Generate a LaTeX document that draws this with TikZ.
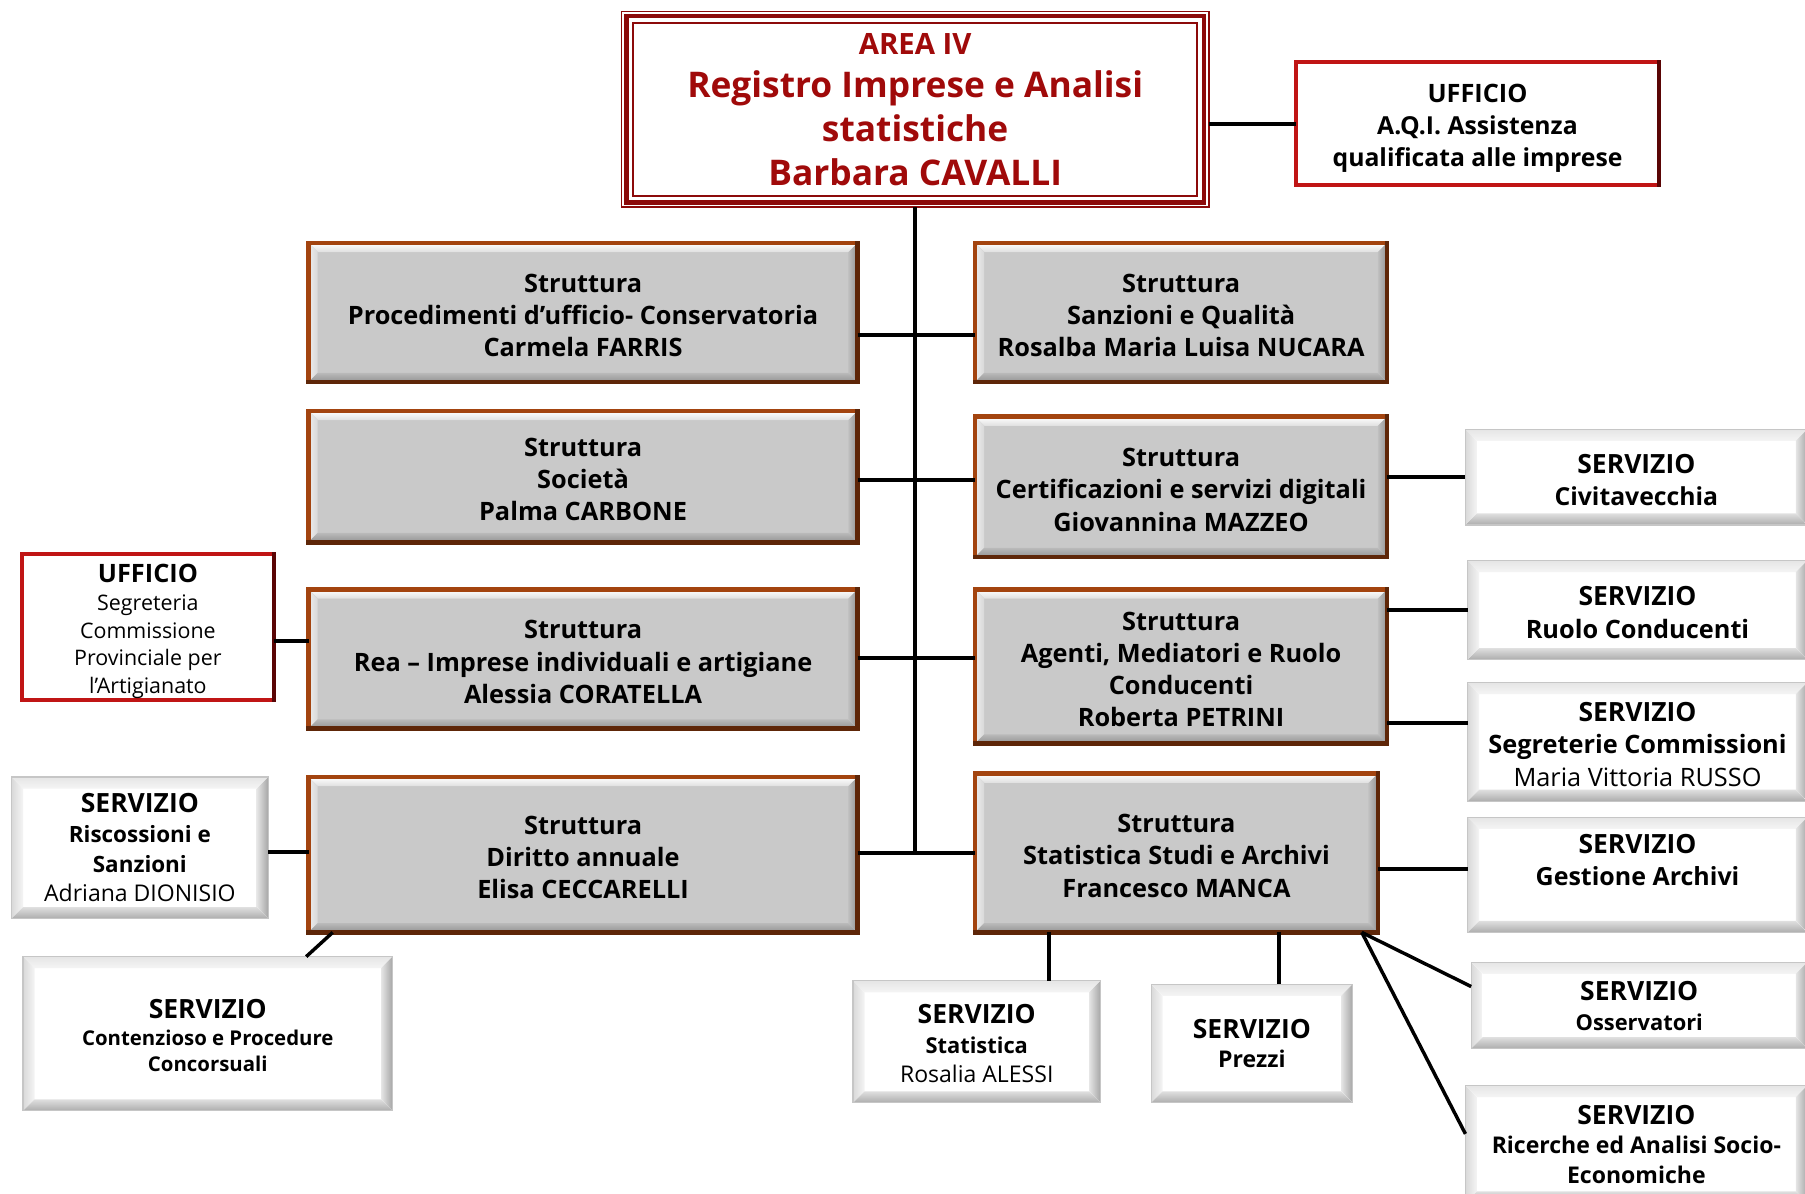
\documentclass[tikz,border=0pt]{standalone}
\usepackage{fontspec}
\setmainfont{Open Sans}
\usetikzlibrary{calc}
\newcommand\fsz[2]{\fontsize{#1}{#2}\selectfont}
\newcommand\hd{\fontsize{23}{28}\selectfont}
\newcommand\tallr[1]{\rule{0pt}{#1pt}}
\definecolor{areared}{HTML}{A00A0A}
\definecolor{areabord}{HTML}{8C0A0A}
\definecolor{ufred}{HTML}{C01515}
\definecolor{ufdark}{HTML}{5A0505}
\definecolor{brbord}{HTML}{A3440F}
\definecolor{brdark}{HTML}{5E2608}
\definecolor{boxgray}{HTML}{C9C9C9}
\tikzset{
  bevelgray/.style={path picture={
    \coordinate (pNW) at (path picture bounding box.north west);
    \coordinate (pNE) at (path picture bounding box.north east);
    \coordinate (pSW) at (path picture bounding box.south west);
    \coordinate (pSE) at (path picture bounding box.south east);
    \fill[top color=white,bottom color=gray!25] (pNW) -- (pNE) -- ([shift={(-8pt,-8pt)}]pNE) -- ([shift={(8pt,-8pt)}]pNW) -- cycle;
    \fill[left color=gray!15,right color=gray!30] (pNW) -- ([shift={(8pt,-8pt)}]pNW) -- ([shift={(8pt,8pt)}]pSW) -- (pSW) -- cycle;
    \fill[left color=gray!50,right color=gray!85] (pNE) -- ([shift={(-8pt,-8pt)}]pNE) -- ([shift={(-8pt,8pt)}]pSE) -- (pSE) -- cycle;
    \fill[top color=gray!55,bottom color=gray!85] (pSW) -- ([shift={(8pt,8pt)}]pSW) -- ([shift={(-8pt,8pt)}]pSE) -- (pSE) -- cycle;
  }},
  bevelwhite/.style={path picture={
    \coordinate (pNW) at (path picture bounding box.north west);
    \coordinate (pNE) at (path picture bounding box.north east);
    \coordinate (pSW) at (path picture bounding box.south west);
    \coordinate (pSE) at (path picture bounding box.south east);
    \fill[top color=gray!20,bottom color=gray!8] (pNW) -- (pNE) -- ([shift={(-10pt,-10pt)}]pNE) -- ([shift={(10pt,-10pt)}]pNW) -- cycle;
    \fill[left color=gray!30,right color=gray!8] (pNW) -- ([shift={(10pt,-10pt)}]pNW) -- ([shift={(10pt,10pt)}]pSW) -- (pSW) -- cycle;
    \fill[left color=gray!20,right color=gray!70] (pNE) -- ([shift={(-10pt,-10pt)}]pNE) -- ([shift={(-10pt,10pt)}]pSE) -- (pSE) -- cycle;
    \fill[top color=gray!25,bottom color=gray!65] (pSW) -- ([shift={(10pt,10pt)}]pSW) -- ([shift={(-10pt,10pt)}]pSE) -- (pSE) -- cycle;
  }},
  grbox/.style={rectangle, draw=brbord, line width=4, fill=boxgray, outer sep=0, inner sep=0,
    align=center, font=\bfseries\fsz{22}{28}, bevelgray},
  svbox/.style={rectangle, draw=gray!45, line width=1, fill=white, outer sep=0, inner sep=0,
    align=center, font=\bfseries\fsz{22}{28}, bevelwhite},
  svlabel/.style={align=center, inner sep=0, font=\bfseries\fsz{21.7}{28}},
  ufbox/.style={rectangle, draw=ufred, line width=3.5, fill=white, outer sep=0, inner sep=0,
    align=center, font=\bfseries\fsz{21.5}{28}},
  conn/.style={draw=black, line width=3.5},
}
\begin{document}
\begin{tikzpicture}[x=1pt,y=-1pt]
\clip (0,0) rectangle (1568,1037);
\fill[white] (0,0) rectangle (1568,1037);

% top box
\node[rectangle, draw=areabord, line width=1.5, minimum width=510, minimum height=170, outer sep=0, inner sep=0,
  align=center, text=areared, font=\bfseries\fsz{30.7}{38}] (top) at (795,95)
  {\fsz{25.5}{38}AREA IV\\Registro Imprese e Analisi\\statistiche\\Barbara CAVALLI};
\draw[areabord, line width=4] ($(top.north west)+(4,4)$) rectangle ($(top.south east)+(-4,-4)$);
\draw[areabord, line width=1.5] ($(top.north west)+(10,10)$) rectangle ($(top.south east)+(-10,-10)$);

\node[ufbox, minimum width=315, minimum height=107] (aqi) at (1283.5,107.5)
  {\fsz{22}{28}\tallr{24}UFFICIO\\A.Q.I. Assistenza\\qualificata alle imprese};

% struttura boxes
\node[grbox, minimum width=477, minimum height=121] (L1) at (506.5,271.5)
  {\tallr{21}Struttura\\Procedimenti d’ufficio- Conservatoria\\Carmela FARRIS};
\node[grbox, minimum width=358, minimum height=121] (R1) at (1026,271.5)
  {\tallr{21}Struttura\\Sanzioni e Qualità\\Rosalba Maria Luisa NUCARA};
\node[grbox, minimum width=477, minimum height=114] (L2) at (506.5,414)
  {\tallr{21}Struttura\\Società\\Palma CARBONE};
\node[grbox, minimum width=358, minimum height=122] (R2) at (1026,423)
  {\tallr{21}Struttura\\Certificazioni e servizi digitali\\Giovannina MAZZEO};
\node[grbox, minimum width=477, minimum height=121] (L3) at (506.5,572.5)
  {\tallr{21}Struttura\\Rea – Imprese individuali e artigiane\\Alessia CORATELLA};
\node[grbox, minimum width=358, minimum height=134] (R3) at (1026,579)
  {\tallr{21}Struttura\\Agenti, Mediatori e Ruolo\\Conducenti\\Roberta PETRINI};
\node[grbox, minimum width=477, minimum height=135] (L4) at (506.5,742.5)
  {\tallr{21}Struttura\\Diritto annuale\\Elisa CECCARELLI};
\node[grbox, minimum width=350, minimum height=138] (R4) at (1022,741)
  {\tallr{21}Struttura\\Statistica Studi e Archivi\\Francesco MANCA};

% servizio boxes right
\node[svbox, minimum width=297, minimum height=83, font=\bfseries\fsz{21.5}{28}] (civ) at (1421.5,414.5)
  {\hd\tallr{21}SERVIZIO\\Civitavecchia};
\node[svbox, minimum width=295, minimum height=86] (ruolo) at (1422.5,530)
  {\hd\tallr{21}SERVIZIO\\Ruolo Conducenti};
\node[svbox, minimum width=295, minimum height=103] (segr) at (1422.5,644.5)
  {\hd\tallr{21}SERVIZIO\\Segreterie Commissioni\\\mdseries Maria Vittoria RUSSO};
\node[svbox, minimum width=295, minimum height=100,
  label={[svlabel,yshift=13]center:\hd SERVIZIO\\Gestione Archivi}] (gest) at (1422.5,760) {};
\node[svbox, minimum width=292, minimum height=75, font=\bfseries\fsz{19}{26}] (oss) at (1424,873.5)
  {\hd SERVIZIO\\Osservatori};
\node[svbox, minimum width=297, minimum height=102, font=\bfseries\fsz{20}{25.5}] (ric) at (1421.5,994)
  {\hd SERVIZIO\\Ricerche ed Analisi Socio-\\Economiche};
\node[svbox, minimum width=215, minimum height=106, font=\bfseries\fsz{19}{25.5}] (stat) at (848.5,905)
  {\hd\tallr{20}SERVIZIO\\Statistica\\\mdseries\fsz{20}{25.5}Rosalia ALESSI};
\node[svbox, minimum width=175, minimum height=103, font=\bfseries\fsz{20}{26}] (prezzi) at (1087.5,906.5)
  {\hd SERVIZIO\\Prezzi};

% left side
\node[ufbox, minimum width=219, minimum height=127, font=\mdseries\fsz{18.6}{24}] (ufl) at (128.5,544.5)
  {\bfseries\fsz{22}{24}\tallr{24}UFFICIO\\Segreteria\\Commissione\\Provinciale per\\l’Artigianato};
\node[svbox, minimum width=223, minimum height=123, font=\bfseries\fsz{19.5}{25.7}] (risc) at (121.5,736.5)
  {\hd SERVIZIO\\Riscossioni e\\Sanzioni\\\mdseries\fsz{20}{25.7}Adriana DIONISIO};
\node[svbox, minimum width=321, minimum height=134, font=\bfseries\fsz{17.7}{23}] (cont) at (180.5,898)
  {\hd\tallr{20}SERVIZIO\\Contenzioso e Procedure\\Concorsuali};

% darker right and bottom edges
\foreach \n in {L1,R1,L2,R2,L3,R3,L4,R4}
  \draw[brdark,line width=4,line cap=rect] (\n.north east) -- (\n.south east) -- (\n.south west);
\foreach \n in {aqi,ufl}
  \draw[ufdark,line width=3.5,line cap=rect] (\n.north east) -- (\n.south east);

% connector coordinates
\coordinate (tend) at (795,741);
\coordinate (y1) at (0,291);
\coordinate (y2) at (0,417);
\coordinate (y3) at (0,572);
\coordinate (y4) at (0,741);
\coordinate (ys) at (0,628);
\coordinate (yg) at (0,755);
\coordinate (yu) at (0,557);
\coordinate (yr) at (0,740);
\coordinate (xs) at (911,0);
\coordinate (xp) at (1111,0);
\coordinate (xd) at (1183,0);
\coordinate (yo) at (0,857);
\coordinate (yk) at (0,985);

\draw[conn] (top.east |- aqi.west) -- (aqi.west);
\draw[conn] (top.south) -- (tend);
\draw[conn] (L1.east |- y1) -- (R1.west |- y1);
\draw[conn] (L2.east |- y2) -- (R2.west |- y2);
\draw[conn] (L3.east |- y3) -- (R3.west |- y3);
\draw[conn] (L4.east |- y4) -- (R4.west |- y4);
\draw[conn] (R2.east |- civ.west) -- (civ.west);
\draw[conn] (R3.east |- ruolo.west) -- (ruolo.west);
\draw[conn] (R3.east |- ys) -- (segr.west |- ys);
\draw[conn] (R4.east |- yg) -- (gest.west |- yg);
\draw[conn] (ufl.east |- yu) -- (L3.west |- yu);
\draw[conn] (risc.east |- yr) -- (L4.west |- yr);
\draw[conn, line width=3] ($(L4.south west)+(21,0)$) -- ($(cont.north east)+(-75,0)$);
\draw[conn] (R4.south -| xs) -- (stat.north -| xs);
\draw[conn] (R4.south -| xp) -- (prezzi.north -| xp);
\draw[conn, line width=3] (R4.south -| xd) -- (oss.west |- yo);
\draw[conn, line width=3] (R4.south -| xd) -- (ric.west |- yk);
\end{tikzpicture}
\end{document}
